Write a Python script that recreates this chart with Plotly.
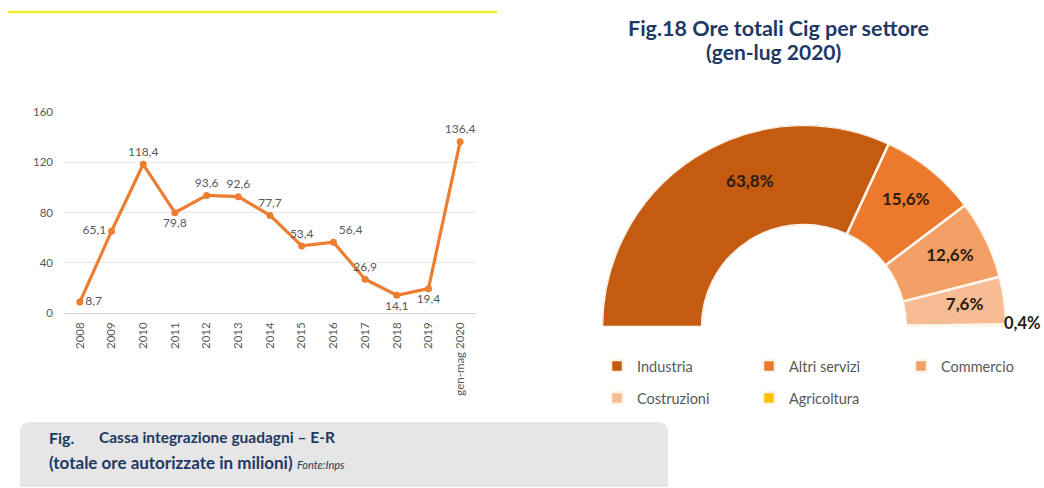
import plotly.graph_objects as go

# ---------------- data ----------------
years = ["2008", "2009", "2010", "2011", "2012", "2013", "2014", "2015",
         "2016", "2017", "2018", "2019", "gen-mag 2020"]
ore_milioni = [8.7, 65.1, 118.4, 79.8, 93.6, 92.6, 77.7, 53.4, 56.4, 26.9, 14.1, 19.4, 136.4]
label_pos = ["middle right", "middle left", "top center", "bottom center", "top center",
             "top center", "top center", "top center", "top right", "top center",
             "bottom center", "bottom center", "top center"]
y_ticks = [0, 40, 80, 120, 160]

settori = ["Industria", "Altri servizi", "Commercio", "Costruzioni", "Agricoltura"]
quote = [63.8, 15.6, 12.6, 7.6, 0.4]
colori = ["#c55a11", "#ed7a2c", "#f2a065", "#f6bd95", "#ffc000"]
legend_group = ["legend", "legend", "legend", "legend2", "legend2"]

W, H = 1044, 488
def px(x):
    return x / W
def py(y):
    return 1 - y / H

def pct(v):
    return f"{v:.1f}%".replace(".", ",")

fig = go.Figure()

# ---------------- line chart ----------------
fig.add_trace(go.Scatter(
    x=years, y=ore_milioni, mode="lines+markers+text",
    line=dict(color="#ed7d31", width=3.2),
    marker=dict(color="#ed7d31", size=7),
    texttemplate="%{y:.1f}", textposition=label_pos,
    textfont=dict(family="Lato", size=12, color="#595959"),
    cliponaxis=False, showlegend=False, hoverinfo="skip",
    xaxis="x", yaxis="y"))

# ---------------- semi donut ----------------
total = sum(quote)
start = 0.0
mids = []
for name, q, c, lg in zip(settori, quote, colori, legend_group):
    span = q / total * 180.0
    mids.append(start + span / 2)
    fig.add_trace(go.Barpolar(
        r=[1], theta=[start + span / 2], width=[span], base=0,
        name=name, marker=dict(color=c, line=dict(color="#fff6ec", width=2.5)),
        legend=lg, hoverinfo="skip", subplot="polar"))
    start += span

# labels inside the ring (the tiny last slice is labelled outside, below)
lab_theta = list(mids[:-1])
lab_r = [0.6] * len(lab_theta)
lab_theta[0] = mids[0] + 12
lab_r[0] = 0.52
fig.add_trace(go.Scatterpolar(
    r=lab_r, theta=lab_theta, mode="text",
    text=[pct(q) for q in quote[:-1]],
    textfont=dict(family="Lato", size=17, color="#2b1a10", weight="bold"),
    cliponaxis=False, showlegend=False, hoverinfo="skip", subplot="polar"))

# ---------------- layout ----------------
shapes = []
# yellow rule at top
shapes.append(dict(type="line", xref="paper", yref="paper",
                   x0=px(8), x1=px(497), y0=py(12), y1=py(12),
                   line=dict(color="#eeee30", width=2.5)))
# rounded grey caption box
x0, x1, y0, y1, r = 20, 668, 422, 487, 10
path = (f"M {px(x0+r)},{py(y0)} L {px(x1-r)},{py(y0)} Q {px(x1)},{py(y0)} {px(x1)},{py(y0+r)} "
        f"L {px(x1)},{py(y1)} L {px(x0)},{py(y1)} L {px(x0)},{py(y0+r)} "
        f"Q {px(x0)},{py(y0)} {px(x0+r)},{py(y0)} Z")
shapes.append(dict(type="path", xref="paper", yref="paper", path=path,
                   fillcolor="#e6e6e6", line=dict(width=0), layer="below"))

navy = "#1f3864"
annotations = [
    dict(xref="paper", yref="paper", x=px(47), y=py(437), xanchor="left", yanchor="middle",
         showarrow=False, text="<b>Fig.</b>",
         font=dict(family="Lato", size=16, color=navy)),
    dict(xref="paper", yref="paper", x=px(97), y=py(437), xanchor="left", yanchor="middle",
         showarrow=False, text="<b>Cassa integrazione guadagni – E-R</b>",
         font=dict(family="Lato", size=15.5, color=navy)),
    dict(xref="paper", yref="paper", x=px(47), y=py(462), xanchor="left", yanchor="middle",
         showarrow=False, align="left",
         text="<b>(totale ore autorizzate in milioni)</b> <i><span style='font-size:11px'>Fonte:Inps</span></i>",
         font=dict(family="Lato", size=17, color=navy)),
    dict(xref="paper", yref="paper", x=px(778), y=py(28), xanchor="center", yanchor="middle",
         showarrow=False, text="<b>Fig.18 Ore totali Cig per settore</b>",
         font=dict(family="Lato", size=21.5, color=navy)),
    dict(xref="paper", yref="paper", x=px(773), y=py(51), xanchor="center", yanchor="middle",
         showarrow=False, text="<b>(gen-lug 2020)</b>",
         font=dict(family="Lato", size=21, color=navy)),
    dict(xref="paper", yref="paper", x=px(1002), y=py(323), xanchor="left", yanchor="middle",
         showarrow=False, text=f"<b>{pct(quote[-1])}</b>",
         font=dict(family="Lato", size=16.5, color="#2b1a10")),
]

legend_common = dict(orientation="h", xanchor="left", yanchor="middle",
                     entrywidth=107, entrywidthmode="pixels",
                     font=dict(family="Lato", size=14.5, color="#595959"),
                     bgcolor="rgba(0,0,0,0)", itemclick=False, itemdoubleclick=False,
                     itemwidth=30, tracegroupgap=0)

fig.update_layout(
    width=W, height=H,
    margin=dict(l=0, r=0, t=0, b=0, autoexpand=False),
    paper_bgcolor="white", plot_bgcolor="white",
    separators=",.",
    font=dict(family="Lato"),
    xaxis=dict(domain=[px(64), px(476)], type="category", range=[-0.5, 12.5],
               tickangle=-90, showgrid=False, showline=False, ticks="", automargin=False,
               ticklabelstandoff=6,
               tickfont=dict(family="Lato", size=11.5, color="#595959")),
    yaxis=dict(domain=[1 - 313 / H, 1 - 112 / H], range=[0, 160], tickvals=y_ticks,
               showgrid=True, gridcolor="#e9e9e9", gridwidth=1, automargin=False,
               zeroline=True, zerolinecolor="#d4d4d4", zerolinewidth=1,
               ticks="", showline=False, ticklabelstandoff=10,
               tickfont=dict(family="Lato", size=11.5, color="#595959")),
    polar=dict(domain=dict(x=[px(602), px(1006)], y=[py(327), py(125)]),
               sector=[0, 180], hole=0.505, bgcolor="rgba(0,0,0,0)",
               radialaxis=dict(range=[0, 1], visible=False),
               angularaxis=dict(rotation=180, direction="clockwise", visible=False)),
    legend=dict(x=px(597), y=py(366), **legend_common),
    legend2=dict(x=px(597), y=py(398), **legend_common),
    shapes=shapes, annotations=annotations,
)

fig.write_html("out.html", config={"displayModeBar": False},
               post_script="document.body.style.margin='0px';document.body.style.overflow='hidden';")
